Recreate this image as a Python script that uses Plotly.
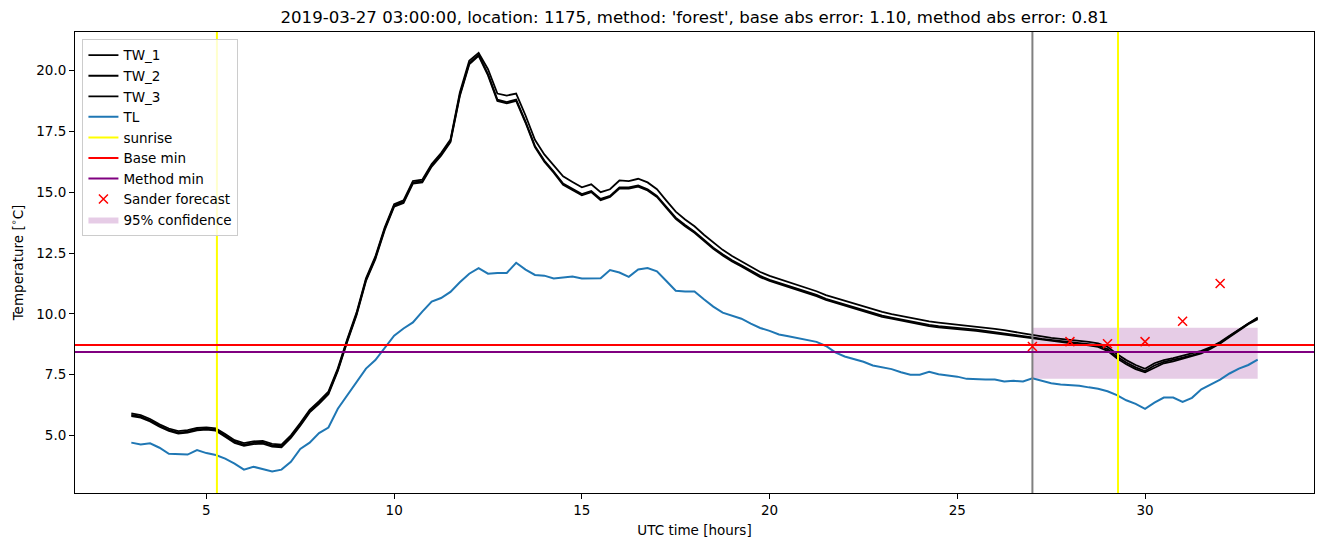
import plotly.graph_objects as go

HOURS = [3.0, 3.25, 3.5, 3.75, 4.0, 4.25, 4.5, 4.75, 5.0, 5.25, 5.5, 5.75, 6.0, 6.25, 6.5, 6.75,
         7.0, 7.25, 7.5, 7.75, 8.0, 8.25, 8.5, 8.75, 9.0, 9.25, 9.5, 9.75, 10.0, 10.25, 10.5, 10.75,
         11.0, 11.25, 11.5, 11.75, 12.0, 12.25, 12.5, 12.75, 13.0, 13.25, 13.5, 13.75, 14.0, 14.25,
         14.5, 14.75, 15.0, 15.25, 15.5, 15.75, 16.0, 16.25, 16.5, 16.75, 17.0, 17.25, 17.5, 17.75,
         18.0, 18.25, 18.5, 18.75, 19.0, 19.25, 19.5, 19.75, 20.0, 20.25, 20.5, 20.75, 21.0, 21.25,
         21.5, 21.75, 22.0, 22.25, 22.5, 22.75, 23.0, 23.25, 23.5, 23.75, 24.0, 24.25, 24.5, 24.75,
         25.0, 25.25, 25.5, 25.75, 26.0, 26.25, 26.5, 26.75, 27.0, 27.25, 27.5, 27.75, 28.0, 28.25,
         28.5, 28.75, 29.0, 29.25, 29.5, 29.75, 30.0, 30.25, 30.5, 30.75, 31.0, 31.25, 31.5, 31.75,
         32.0, 32.25, 32.5, 32.75, 33.0]

TW_1 = [5.91, 5.84, 5.68, 5.46, 5.29, 5.18, 5.22, 5.31, 5.34, 5.3, 5.06, 4.81, 4.69, 4.76, 4.78, 4.66,
        4.63, 5.01, 5.51, 6.06, 6.41, 6.81, 7.76, 8.96, 10.06, 11.46, 12.36, 13.56, 14.51, 14.66, 15.46, 15.51,
        16.16, 16.61, 17.16, 19.1, 20.4, 20.72, 20.05, 19.05, 18.97, 19.05, 18.15, 17.15, 16.55, 16.1,
        15.65, 15.42, 15.2, 15.32, 15.0, 15.12, 15.48, 15.45, 15.55, 15.4, 15.12, 14.65, 14.2, 13.88,
        13.6, 13.25, 12.92, 12.63, 12.38, 12.17, 11.94, 11.72, 11.56, 11.43, 11.3, 11.2, 11.07, 10.93,
        10.77, 10.65, 10.53, 10.42, 10.31, 10.2, 10.08, 9.99, 9.91, 9.82, 9.74, 9.69, 9.64, 9.6,
        9.57, 9.53, 9.48, 9.43, 9.38, 9.33, 9.25, 9.2, 9.14, 9.07, 9.01, 8.97, 8.94, 8.89,
        8.85, 8.79, 8.65, 8.35, 8.1, 7.9, 7.74, 7.97, 8.1, 8.18, 8.28, 8.38, 8.48, 8.64,
        8.84, 9.1, 9.36, 9.62, 9.85]

TW_2 = [5.85, 5.78, 5.62, 5.4, 5.23, 5.12, 5.16, 5.25, 5.28, 5.24, 5.0, 4.75, 4.63, 4.7, 4.72, 4.6,
        4.57, 4.95, 5.45, 6.0, 6.35, 6.75, 7.7, 8.9, 10.0, 11.4, 12.3, 13.5, 14.45, 14.6, 15.4, 15.45,
        16.1, 16.55, 17.1, 19.0, 20.3, 20.65, 19.85, 18.8, 18.7, 18.8, 17.9, 16.9, 16.3, 15.85,
        15.35, 15.15, 14.92, 15.05, 14.72, 14.85, 15.2, 15.2, 15.28, 15.12, 14.85, 14.4, 13.95, 13.65,
        13.38, 13.05, 12.72, 12.45, 12.2, 12.0, 11.78, 11.56, 11.4, 11.28, 11.15, 11.05, 10.92, 10.78,
        10.62, 10.5, 10.38, 10.27, 10.16, 10.05, 9.93, 9.85, 9.77, 9.68, 9.6, 9.55, 9.5, 9.47,
        9.44, 9.4, 9.35, 9.3, 9.25, 9.2, 9.12, 9.07, 9.03, 8.97, 8.92, 8.88, 8.85, 8.8,
        8.76, 8.7, 8.55, 8.25, 8.0, 7.8, 7.65, 7.88, 8.03, 8.1, 8.2, 8.3, 8.42, 8.6,
        8.8, 9.08, 9.35, 9.6, 9.82]

TW_3 = [5.8, 5.74, 5.58, 5.36, 5.19, 5.08, 5.12, 5.21, 5.24, 5.2, 4.95, 4.7, 4.58, 4.65, 4.67, 4.55,
        4.52, 4.9, 5.4, 5.95, 6.3, 6.7, 7.65, 8.85, 9.95, 11.35, 12.25, 13.45, 14.4, 14.55, 15.35, 15.4,
        16.05, 16.5, 17.05, 18.95, 20.25, 20.6, 19.8, 18.75, 18.65, 18.75, 17.85, 16.85, 16.25, 15.8,
        15.3, 15.1, 14.87, 15.0, 14.67, 14.8, 15.15, 15.15, 15.23, 15.07, 14.8, 14.35, 13.9, 13.6,
        13.33, 13.0, 12.67, 12.4, 12.15, 11.95, 11.73, 11.51, 11.35, 11.23, 11.1, 11.0, 10.87, 10.73,
        10.57, 10.45, 10.33, 10.22, 10.11, 10.0, 9.88, 9.8, 9.72, 9.63, 9.55, 9.5, 9.45, 9.42,
        9.39, 9.35, 9.3, 9.25, 9.2, 9.15, 9.07, 9.02, 8.98, 8.92, 8.87, 8.83, 8.8, 8.75,
        8.71, 8.64, 8.48, 8.18, 7.93, 7.73, 7.6, 7.8, 7.97, 8.05, 8.15, 8.25, 8.38, 8.57,
        8.78, 9.05, 9.32, 9.57, 9.78]

TL = [4.71, 4.63, 4.68, 4.5, 4.25, 4.22, 4.22, 4.4, 4.28, 4.2, 4.05, 3.85, 3.6, 3.72, 3.62, 3.52,
      3.6, 3.92, 4.45, 4.71, 5.1, 5.33, 6.1, 6.65, 7.2, 7.75, 8.1, 8.6, 9.1, 9.4, 9.65, 10.09,
      10.5, 10.65, 10.9, 11.3, 11.65, 11.88, 11.65, 11.68, 11.68, 12.1, 11.82, 11.6, 11.57, 11.45,
      11.5, 11.53, 11.45, 11.47, 11.46, 11.8, 11.7, 11.52, 11.82, 11.88, 11.75, 11.35, 10.95, 10.92,
      10.92, 10.6, 10.3, 10.05, 9.93, 9.8, 9.6, 9.42, 9.3, 9.15, 9.08, 9.0, 8.95, 8.85,
      8.68, 8.42, 8.25, 8.15, 8.03, 7.88, 7.8, 7.73, 7.6, 7.5, 7.5, 7.62, 7.52, 7.48,
      7.42, 7.33, 7.3, 7.3, 7.3, 7.22, 7.25, 7.22, 7.35, 7.25, 7.15, 7.1, 7.07, 7.05,
      6.98, 6.92, 6.82, 6.66, 6.45, 6.3, 6.1, 6.35, 6.56, 6.56, 6.38, 6.55, 6.9, 7.09,
      7.3, 7.55, 7.75, 7.9, 8.12]

SUNRISE = [5.28, 29.28]
FORECAST_START = 27.0
BASE_MIN = 8.72
METHOD_MIN = 8.43
FORECAST_HOURS = [27, 28, 29, 30, 31, 32]
FORECAST_VALUES = [8.66, 8.86, 8.77, 8.86, 9.7, 11.25]
CONF_HOURS = [27.0, 33.0]
CONF_LOW = 7.33
CONF_HIGH = 9.43

X_RANGE = [1.5, 34.5]
Y_RANGE = [2.64, 21.58]

TITLE = ("2019-03-27 03:00:00, location: 1175, method: 'forest', "
         "base abs error: 1.10, method abs error: 0.81")

FONT = "DejaVu Sans"
fig = go.Figure()

# confidence band (drawn first, listed last)
fig.add_trace(go.Scatter(
    x=[CONF_HOURS[0], CONF_HOURS[1], CONF_HOURS[1], CONF_HOURS[0], CONF_HOURS[0]],
    y=[CONF_LOW, CONF_LOW, CONF_HIGH, CONF_HIGH, CONF_LOW],
    fill="toself", fillcolor="rgba(128,0,128,0.2)", line=dict(width=0),
    mode="lines", name="95% confidence", legendrank=9))

for nm, ser, rk in (("TW_1", TW_1, 1), ("TW_2", TW_2, 2), ("TW_3", TW_3, 3)):
    fig.add_trace(go.Scatter(x=HOURS, y=ser, mode="lines", name=nm,
                             line=dict(color="black", width=1.8), legendrank=rk))

fig.add_trace(go.Scatter(x=HOURS, y=TL, mode="lines", name="TL",
                         line=dict(color="#1f77b4", width=2), legendrank=4))

# forecast start vertical line (no legend)
fig.add_trace(go.Scatter(x=[FORECAST_START, FORECAST_START], y=Y_RANGE, mode="lines",
                         line=dict(color="gray", width=2), showlegend=False))

sx, sy = [], []
for s in SUNRISE:
    sx += [s, s, None]
    sy += [Y_RANGE[0], Y_RANGE[1], None]
fig.add_trace(go.Scatter(x=sx, y=sy, mode="lines", name="sunrise",
                         line=dict(color="yellow", width=2), legendrank=5))

fig.add_trace(go.Scatter(x=X_RANGE, y=[BASE_MIN, BASE_MIN], mode="lines", name="Base min",
                         line=dict(color="red", width=2), legendrank=6))
fig.add_trace(go.Scatter(x=X_RANGE, y=[METHOD_MIN, METHOD_MIN], mode="lines", name="Method min",
                         line=dict(color="purple", width=2), legendrank=7))

fig.add_trace(go.Scatter(x=FORECAST_HOURS, y=FORECAST_VALUES, mode="markers",
                         name="Sander forecast",
                         marker=dict(symbol="x-thin", size=9, color="red",
                                     line=dict(color="red", width=1.5)),
                         legendrank=8))

axis_common = dict(showline=True, linecolor="black", linewidth=1, mirror=True,
                   ticks="outside", ticklen=5, tickcolor="black", showgrid=False,
                   zeroline=False, automargin=False,
                   tickfont=dict(family=FONT, size=13.5, color="black"))

# The page body adds an 8px offset, so the figure is sized to fit the window.
fig.update_layout(
    template="none",
    width=1316, height=539,
    margin=dict(l=67, r=10, t=24, b=54, autoexpand=False),
    paper_bgcolor="white", plot_bgcolor="white",
    font=dict(family=FONT, size=13.5, color="black"),
    title=dict(text=TITLE, x=0.5, xref="paper", xanchor="center", y=0.983, yanchor="middle",
               automargin=False, font=dict(family=FONT, size=16.6, color="black")),
    xaxis=dict(range=X_RANGE, tickvals=[5, 10, 15, 20, 25, 30],
               title=dict(text="UTC time [hours]", standoff=8,
                          font=dict(family=FONT, size=13.5)), **axis_common),
    yaxis=dict(range=Y_RANGE, tickvals=[5, 7.5, 10, 12.5, 15, 17.5, 20],
               ticktext=["5.0", "7.5", "10.0", "12.5", "15.0", "17.5", "20.0"],
               title=dict(text="Temperature [<sup>∘</sup>C]", standoff=10,
                          font=dict(family=FONT, size=13.5)), **axis_common),
    legend=dict(x=0.006, y=0.985, xanchor="left", yanchor="top",
                bgcolor="rgba(255,255,255,0.8)", bordercolor="#cccccc", borderwidth=1,
                font=dict(family=FONT, size=13.5), itemwidth=30, tracegroupgap=0),
    showlegend=True,
)

fig.write_html("out.html")
